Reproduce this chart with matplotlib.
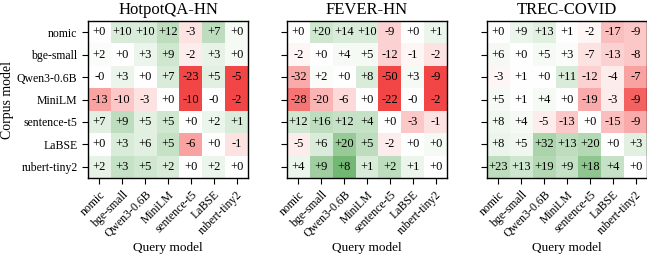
import numpy as np
import matplotlib
matplotlib.use('Agg')
import matplotlib.pyplot as plt
from matplotlib.colors import LinearSegmentedColormap

plt.rcParams['font.family'] = ['Liberation Serif', 'DejaVu Serif']

models = ['nomic', 'bge-small', 'Qwen3-0.6B', 'MiniLM', 'sentence-t5', 'LaBSE', 'rubert-tiny2']
titles = ['HotpotQA-HN', 'FEVER-HN', 'TREC-COVID']

# shown numbers (rows = corpus model, cols = query model)
hotpot_labels = [
    ['+0', '+10', '+10', '+12', '-3', '+7', '+0'],
    ['+2', '+0', '+3', '+9', '-2', '+3', '+0'],
    ['-0', '+3', '+0', '+7', '-23', '+5', '-5'],
    ['-13', '-10', '-3', '+0', '-10', '-0', '-2'],
    ['+7', '+9', '+5', '+5', '+0', '+2', '+1'],
    ['+0', '+3', '+6', '+5', '-6', '+0', '-1'],
    ['+2', '+3', '+5', '+2', '+0', '+2', '+0'],
]
fever_labels = [
    ['+0', '+20', '+14', '+10', '-9', '+0', '+1'],
    ['-2', '+0', '+4', '+5', '-12', '-1', '-2'],
    ['-32', '+2', '+0', '+8', '-50', '+3', '-9'],
    ['-28', '-20', '-6', '+0', '-22', '-0', '-2'],
    ['+12', '+16', '+12', '+4', '+0', '-3', '-1'],
    ['-5', '+6', '+20', '+5', '-2', '+0', '+0'],
    ['+4', '+9', '+8', '+1', '+2', '+1', '+0'],
]
trec_labels = [
    ['+0', '+9', '+13', '+1', '-2', '-17', '-9'],
    ['+6', '+0', '+5', '+3', '-7', '-13', '-8'],
    ['-3', '+1', '+0', '+11', '-12', '-4', '-7'],
    ['+5', '+1', '+4', '+0', '-19', '-3', '-9'],
    ['+8', '+4', '-5', '-13', '+0', '-15', '-9'],
    ['+8', '+5', '+32', '+13', '+20', '+0', '+3'],
    ['+23', '+13', '+19', '+9', '+18', '+4', '+0'],
]

# cell shading (relative change, -1 .. 1)
hotpot_rel = [
    [0.00, 0.20, 0.20, 0.35, -0.15, 0.35, 0.05],
    [0.03, 0.00, 0.10, 0.25, -0.10, 0.12, 0.05],
    [0.00, 0.10, 0.00, 0.20, -1.00, 0.15, -1.00],
    [-0.50, -0.30, -0.15, 0.00, -1.00, 0.00, -1.00],
    [0.15, 0.35, 0.15, 0.25, 0.00, 0.10, 0.20],
    [0.00, 0.20, 0.15, 0.30, -0.50, 0.00, -0.15],
    [0.12, 0.30, 0.25, 0.20, 0.00, 0.10, 0.00],
]
fever_rel = [
    [0.00, 0.25, 0.20, 0.20, -0.25, 0.00, 0.10],
    [-0.05, 0.00, 0.05, 0.05, -0.25, -0.05, -0.15],
    [-0.45, 0.03, 0.00, 0.20, -1.00, 0.05, -1.00],
    [-0.75, -0.40, -0.20, 0.00, -1.00, 0.00, -1.00],
    [0.25, 0.35, 0.30, 0.30, 0.00, -0.30, -0.15],
    [-0.10, 0.20, 0.55, 0.35, -0.10, 0.00, 0.05],
    [0.10, 0.50, 0.75, 0.20, 0.35, 0.10, 0.00],
]
trec_rel = [
    [0.00, 0.10, 0.15, 0.00, -0.05, -0.35, -0.30],
    [0.06, 0.00, 0.05, 0.03, -0.15, -0.25, -0.30],
    [-0.05, 0.00, 0.00, 0.20, -0.25, -0.10, -0.50],
    [0.05, 0.00, 0.05, 0.00, -0.45, -0.10, -0.85],
    [0.08, 0.05, -0.10, -0.30, 0.00, -0.35, -0.45],
    [0.10, 0.08, 0.45, 0.35, 0.40, 0.00, 0.15],
    [0.35, 0.25, 0.40, 0.30, 0.60, 0.30, 0.00],
]

cmap = LinearSegmentedColormap.from_list('rwg', ['#f24646', '#ffffff', '#45a045'])

W, H = 647, 259
fig = plt.figure(figsize=(W / 100, H / 100), dpi=100)

lefts = [88, 287, 487]
panels = [(hotpot_rel, hotpot_labels), (fever_rel, fever_labels), (trec_rel, trec_labels)]

for i, (rel, labels) in enumerate(panels):
    ax = fig.add_axes([lefts[i] / W, (H - 178) / H, 160 / W, 157 / H])
    ax.imshow(np.array(rel), cmap=cmap, vmin=-1, vmax=1, aspect='auto')
    for r in range(len(models)):
        for c in range(len(models)):
            ax.text(c, r, labels[r][c], ha='center', va='center', fontsize=9, color='black')
    ax.set_xticks(range(len(models)))
    ax.set_yticks(range(len(models)))
    ax.set_xticklabels(models, rotation=45, ha='right', rotation_mode='anchor', fontsize=8.5)
    if i == 0:
        ax.set_yticklabels(models, fontsize=8.5)
    else:
        ax.set_yticklabels([])
    ax.tick_params(length=4, width=0.8)
    ax.set_title(titles[i], fontsize=12, pad=5)
    for s in ax.spines.values():
        s.set_linewidth(1.0)
    fig.text((lefts[i] + 80) / W, 1 - 248 / H, 'Query model', ha='center', va='center', fontsize=9.5)

fig.text(8 / W, 1 - 100 / H, 'Corpus model', rotation=90, ha='center', va='center', fontsize=10)

fig.savefig('out.png', dpi=100)
